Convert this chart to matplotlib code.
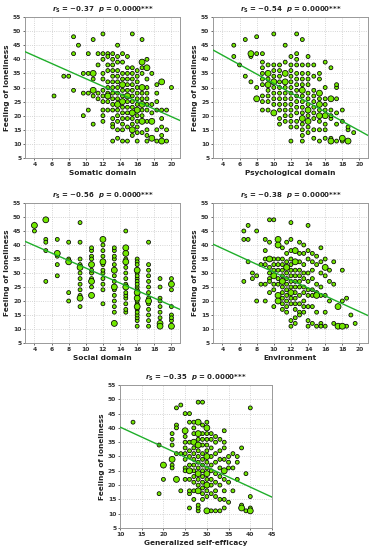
import numpy as np
import matplotlib as mpl
mpl.use('Agg')
from matplotlib import pyplot as plt

# ---- data: x columns, y values per column, and the heavier (repeated) points ----
som_cols = [6.29, 7.43, 8.0, 8.57, 9.14, 9.71, 10.29, 10.86, 11.43, 12.0, 12.57, 13.14,
            13.71, 14.29, 14.86, 15.43, 16.0, 16.57, 17.14, 17.71, 18.29, 18.86, 19.43, 20.0]
som_ys = [[27], [34], [34], [48, 42, 29], [45], [35, 28, 20], [42, 35, 28, 22],
          [47, 35, 33, 29, 27, 17], [42, 38, 28, 26],
          [49, 42, 40, 35, 33, 29, 27, 25, 22, 20, 18],
          [42, 41, 38, 36, 32, 30, 28, 27, 25, 22],
          [42, 40, 38, 36, 34, 32, 30, 28, 26, 24, 22, 19, 17, 16, 11],
          [45, 41, 39, 36, 34, 32, 30, 28, 26, 24, 22, 20, 18, 15, 12],
          [42, 39, 35, 33, 31, 29, 27, 25, 23, 21, 19, 17, 15, 11],
          [41, 37, 35, 33, 31, 29, 27, 25, 23, 21, 19, 16, 11],
          [49, 37, 35, 33, 31, 29, 27, 25, 23, 21, 19, 17, 15, 13],
          [36, 34, 32, 30, 28, 26, 24, 22, 20, 18, 16, 14, 11],
          [47, 39, 37, 35, 30, 28, 26, 24, 22, 20, 18, 14],
          [40, 37, 33, 30, 28, 26, 24, 22, 18, 15, 13, 11],
          [35, 24, 21, 18, 12], [31, 28, 25, 22, 15, 11], [32, 22, 19, 16, 13, 11],
          [22, 15, 11], [30]]
som_big = [(10.86, 35), (10.86, 29), (12.57, 27), (13.71, 24), (14.29, 31), (14.29, 25),
           (14.86, 27), (15.43, 21), (15.43, 15), (16.0, 22), (16.57, 39), (16.57, 30),
           (16.57, 24), (16.57, 18), (17.14, 37), (17.71, 18), (17.71, 12), (18.86, 32),
           (18.86, 11)]

psy_cols = [5.33, 6.0, 6.67, 7.33, 8.0, 8.67, 9.33, 10.0, 10.67, 11.33, 12.0, 12.67,
            13.33, 14.0, 14.67, 15.33, 16.0, 16.67, 17.33, 18.0, 18.67, 19.33]
psy_ys = [[45, 41], [38], [47, 34], [42, 41, 32], [48, 42, 30, 26],
          [42, 39, 37, 35, 33, 31, 27, 25, 22],
          [38, 35, 33, 31, 29, 27, 25, 22],
          [49, 38, 36, 34, 32, 30, 28, 26, 24, 21],
          [38, 36, 34, 32, 30, 28, 26, 24, 22, 19, 17],
          [45, 39, 35, 32, 30, 28, 26, 24, 22, 20, 18],
          [41, 38, 36, 34, 32, 30, 28, 26, 24, 22, 20, 18, 16, 11],
          [49, 42, 40, 38, 35, 33, 31, 29, 27, 25, 23, 21, 18, 16],
          [47, 38, 35, 33, 31, 29, 27, 25, 23, 21, 19, 17, 15, 13, 11],
          [41, 38, 35, 33, 31, 28, 26, 24, 22, 20, 18, 16, 14],
          [38, 34, 29, 27, 25, 23, 21, 19, 15, 12],
          [35, 33, 28, 26, 24, 22, 20, 18, 15, 11],
          [39, 30, 26, 24, 22, 20, 17, 15, 12],
          [37, 26, 22, 20, 19, 12, 11], [31, 30, 26, 21, 17, 11],
          [22, 18, 12, 11], [16, 15, 11], [14]]
psy_big = [(7.33, 42), (8.0, 26), (9.33, 35), (9.33, 31), (10.0, 32), (10.0, 21),
           (11.33, 35), (11.33, 32), (13.33, 29), (13.33, 19), (14.0, 22), (14.0, 18),
           (15.33, 28), (15.33, 24), (15.33, 20), (16.0, 20), (16.67, 26), (16.67, 11),
           (18.0, 12), (18.67, 11)]

soc_cols = [4.0, 5.33, 6.67, 8.0, 9.33, 10.67, 12.0, 13.33, 14.67, 16.0, 17.33, 18.67, 20.0]
soc_ys = [[47, 45], [49, 42, 41, 38, 27], [42, 37, 36, 33, 29], [41, 35, 34, 23, 20],
          [48, 41, 35, 33, 32, 30, 28, 26, 24, 22, 21, 18],
          [39, 38, 36, 35, 33, 31, 30, 28, 27, 25, 22],
          [42, 40, 38, 36, 34, 33, 31, 30, 28, 26, 24, 19],
          [39, 38, 36, 35, 33, 31, 29, 27, 25, 24, 22, 20, 18, 16, 12],
          [45, 39, 37, 35, 34, 32, 30, 28, 26, 25, 23, 22, 21, 19, 17, 16],
          [35, 34, 33, 31, 30, 29, 28, 27, 26, 25, 24, 23, 22, 21, 20, 19, 18, 17,
           16, 15, 14, 13, 11],
          [41, 33, 31, 29, 27, 25, 23, 21, 20, 19, 17, 15, 13, 11],
          [28, 25, 21, 20, 18, 16, 14, 12, 11],
          [28, 26, 24, 18, 15, 14, 13, 11]]
soc_big = [(4.0, 47), (5.33, 49), (6.67, 37), (8.0, 34), (9.33, 32), (9.33, 21),
           (10.67, 33), (10.67, 27), (10.67, 22), (12.0, 42), (12.0, 34), (13.33, 31),
           (13.33, 25), (13.33, 12), (14.67, 39), (14.67, 37), (14.67, 34), (14.67, 25),
           (16.0, 31), (16.0, 23), (16.0, 21), (16.0, 18), (17.33, 20), (18.67, 12),
           (18.67, 11), (20.0, 26), (20.0, 11)]

env_cols = [6.5, 7.0, 7.5, 8.0, 8.5, 9.0, 9.5, 10.0, 10.5, 11.0, 11.5, 12.0, 12.5, 13.0,
            13.5, 14.0, 14.5, 15.0, 15.5, 16.0, 16.5, 17.0, 17.5, 18.0, 18.5, 19.0, 19.5]
env_ys = [[45, 42, 27], [47, 42, 34], [30, 28], [45, 29, 20], [33, 26],
          [42, 38, 35, 33, 26, 20], [49, 41, 35, 32, 30, 28, 27, 23],
          [49, 35, 33, 31, 29, 26, 24, 18], [42, 40, 35, 33, 31, 28, 26, 22, 20],
          [39, 35, 33, 31, 29, 27, 25, 23, 21, 19, 17],
          [41, 37, 34, 32, 30, 28, 26, 24, 22, 20, 18, 16],
          [48, 42, 38, 35, 33, 31, 29, 27, 25, 23, 21, 19, 13, 11],
          [38, 34, 31, 29, 27, 25, 23, 21, 19, 17, 14, 12],
          [41, 37, 34, 31, 29, 27, 25, 22, 19, 16, 15],
          [40, 37, 33, 30, 28, 25, 23, 20, 18, 16],
          [47, 38, 35, 30, 27, 24, 22, 18, 13, 11],
          [37, 34, 31, 28, 24, 22, 18, 12], [36, 33, 26, 23, 22, 16, 11],
          [39, 34, 30, 25, 22, 12, 11], [35, 32, 29, 22, 16, 11], [31, 27, 20],
          [34, 26, 12], [18, 11], [31, 20, 11], [21, 11], [15], [12]]
env_big = [(9.5, 35), (10.0, 29), (10.5, 42), (10.5, 40), (10.5, 22), (10.5, 20),
           (11.0, 27), (11.5, 32), (12.0, 23), (12.5, 38), (12.5, 34), (15.0, 22),
           (16.0, 32), (17.5, 18), (17.5, 11), (18.0, 11)]

gse_cols = [13, 19, 20, 22, 23, 24, 25, 26, 27, 28, 29, 30, 31, 32, 33, 34, 35, 36, 37,
            38, 39, 40]
gse_ys = [[42], [34, 17], [27, 22], [38, 36, 34, 29, 27, 26], [47, 41, 40, 31, 22],
          [48, 31, 18], [45, 39, 37, 35, 33, 31, 29, 26, 25, 22],
          [45, 42, 35, 32, 30, 27, 25, 22, 18, 17, 12],
          [42, 40, 38, 35, 33, 31, 29, 27, 25, 23, 21, 18, 15],
          [49, 42, 38, 36, 34, 32, 30, 28, 26, 24, 22, 20, 18, 13, 12, 11],
          [49, 41, 38, 36, 34, 31, 29, 27, 25, 23, 21, 19, 17, 15],
          [42, 40, 38, 36, 34, 32, 30, 28, 26, 24, 22, 20, 18, 16, 11],
          [38, 36, 33, 30, 27, 25, 22, 20, 17, 11],
          [37, 35, 31, 28, 24, 21, 18, 16, 11],
          [36, 32, 29, 26, 23, 20, 15, 11],
          [39, 35, 33, 29, 25, 22, 18, 15, 12],
          [30, 28, 26, 21, 14], [31, 26, 18], [30, 28, 22], [33, 13, 12], [24, 11],
          [47, 16, 12, 11]]
gse_big = [(20, 27), (22, 29), (23, 22), (25, 39), (26, 25), (27, 35), (28, 42),
           (28, 38), (28, 34), (28, 24), (28, 18), (30, 40), (30, 30), (30, 24),
           (30, 20), (30, 11), (34, 25), (38, 12), (40, 11)]

labels = ['Somatic domain', 'Psychological domain', 'Social domain', 'Environment',
          'Generalized self-efficacy']
rs = ['\u22120.37', '\u22120.54', '\u22120.56', '\u22120.38', '\u22120.35']
# regression line ends (at the x limits)
line_y = [(42.7, 18.3), (43.3, 13.0), (41.3, 17.0), (40.3, 14.8), (40.3, 15.8)]

panels = [(som_cols, som_ys, som_big), (psy_cols, psy_ys, psy_big),
          (soc_cols, soc_ys, soc_big), (env_cols, env_ys, env_big),
          (gse_cols, gse_ys, gse_big)]

W, H = 378, 550
boxes = [(25, 180, 17, 158), (213, 368, 17, 158), (25, 180, 203, 343),
         (213, 368, 203, 343), (120, 272, 385, 528)]

face = '#72e800'
fig = plt.figure(figsize=(W / 100, H / 100), dpi=100, facecolor='white')

for i, ((cols, ys, big), (l, r, t, b)) in enumerate(zip(panels, boxes)):
    ax = fig.add_axes([l / W, 1 - b / H, (r - l) / W, (b - t) / H])
    x = np.concatenate([[c] * len(v) for c, v in zip(cols, ys)])
    y = np.concatenate(ys)
    big_set = set(big)
    sizes = np.array([18 if (xx, yy) in big_set else 8 for xx, yy in zip(x, y)])
    order = np.argsort(sizes)
    ax.scatter(x[order], y[order], s=sizes[order], c=face, edgecolors='black',
               linewidths=0.55, zorder=3)

    if i < 4:
        xlim = (2.9, 21)
        xt = np.arange(4, 21, 2)
    else:
        xlim = (10, 45)
        xt = np.arange(10, 46, 5)
    ax.plot(xlim, line_y[i], color='#1fae2a', lw=1.0, zorder=4)
    ax.set_xlim(xlim)
    ax.set_ylim(5, 55)
    ax.set_xticks(xt)
    ax.set_yticks(np.arange(5, 56, 5))
    ax.grid(True, linestyle=':', color='#c8c8c8', lw=0.6, zorder=0)
    ax.tick_params(labelsize=4.3, length=1.5, width=0.5, pad=1.2, colors='#333333')
    for tl in ax.get_xticklabels() + ax.get_yticklabels():
        tl.set_fontweight('bold')
    for s in ax.spines.values():
        s.set_color('#999999')
        s.set_linewidth(0.7)
    ax.set_xlabel(labels[i], fontsize=5.3, fontweight='bold', labelpad=2.5, color='#222222')
    ax.set_ylabel('Feeling of loneliness', fontsize=5.3, fontweight='bold', labelpad=2,
                  color='#222222')
    ax.set_title(r'$\mathbfit{r}_\mathbf{S}$ = ' + rs[i] +
                 r'  $\mathbfit{p}$ = 0.0000***',
                 fontsize=5, fontweight='bold', pad=4, color='#222222')

fig.savefig('out.png', dpi=100)
